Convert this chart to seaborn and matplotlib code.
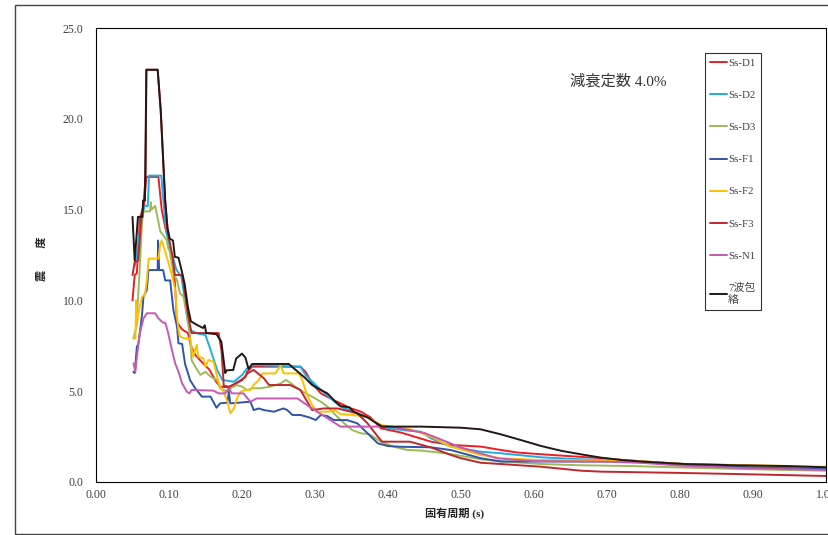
import pandas as pd
import matplotlib
matplotlib.use("Agg")
import matplotlib.pyplot as plt
import seaborn as sns
from matplotlib.patches import Rectangle
from matplotlib.ticker import MultipleLocator, FormatStrFormatter

# Ss-D1
t_d1 = [0.050, 0.053, 0.056, 0.060, 0.066, 0.069, 0.0855, 0.090, 0.095, 0.100,
        0.104, 0.108, 0.111, 0.118, 0.126, 0.130, 0.136, 0.145, 0.155, 0.165,
        0.170, 0.184, 0.191, 0.198, 0.205, 0.207, 0.214, 0.280, 0.287, 0.296,
        0.308, 0.326, 0.349, 0.363, 0.376, 0.390, 0.418, 0.459, 0.486, 0.527,
        0.555, 0.578, 0.624, 0.692, 0.733, 0.800, 0.900, 1.000]
v_d1 = [10.0, 11.4, 11.5, 14.5, 15.3, 16.8, 16.8, 15.0, 14.0, 13.3,
        12.3, 11.0, 8.8, 8.4, 8.2, 7.5, 7.0, 6.6, 6.2, 5.5,
        5.25, 5.2, 5.43, 5.6, 5.8, 6.07, 6.35, 6.35, 6.07, 5.43,
        4.88, 4.5, 4.06, 3.87, 3.56, 2.96, 2.72, 2.22, 2.04, 1.95,
        1.76, 1.62, 1.49, 1.31, 1.18, 1.0, 0.9, 0.78]

# Ss-D2
t_d2 = [0.053, 0.0575, 0.062, 0.0667, 0.071, 0.0726, 0.0895, 0.092, 0.0963, 0.101,
        0.110, 0.117, 0.1245, 0.129, 0.138, 0.150, 0.157, 0.166, 0.173, 0.189,
        0.200, 0.207, 0.216, 0.280, 0.287, 0.308, 0.335, 0.353, 0.372, 0.385,
        0.400, 0.427, 0.445, 0.459, 0.486, 0.527, 0.555, 0.610, 0.665, 0.733,
        0.800, 0.900, 1.000]
v_d2 = [11.9, 13.0, 14.5, 15.2, 15.2, 16.87, 16.87, 15.6, 13.76, 13.0,
        11.7, 11.3, 9.29, 8.37, 8.19, 8.09, 7.27, 6.17, 5.62, 5.52,
        5.89, 6.26, 6.44, 6.35, 5.89, 5.07, 4.15, 3.87, 3.56, 3.23,
        2.96, 2.83, 2.77, 2.4, 1.95, 1.67, 1.58, 1.36, 1.25, 1.16,
        1.0, 0.85, 0.75]

# Ss-D3
t_d3 = [0.0513, 0.055, 0.058, 0.060, 0.063, 0.065, 0.074, 0.075, 0.076, 0.081,
        0.0856, 0.088, 0.092, 0.097, 0.099, 0.101, 0.106, 0.111, 0.115, 0.120,
        0.1245, 0.129, 0.131, 0.136, 0.143, 0.150, 0.157, 0.166, 0.170, 0.180,
        0.186, 0.193, 0.200, 0.207, 0.214, 0.225, 0.239, 0.253, 0.260, 0.264,
        0.276, 0.287, 0.296, 0.308, 0.317, 0.328, 0.340, 0.351, 0.363, 0.374,
        0.390, 0.408, 0.427, 0.445, 0.459, 0.486, 0.527, 0.555, 0.610, 0.665,
        0.733, 0.800, 0.900, 1.000]
v_d3 = [7.9, 8.5, 10.4, 11.86, 14.25, 14.9, 14.9, 15.4, 15.0, 15.2,
        14.3, 13.8, 13.6, 13.3, 12.87, 12.7, 11.5, 11.1, 10.4, 10.2,
        9.1, 8.0, 6.7, 6.35, 5.9, 6.07, 5.8, 5.6, 5.16, 4.97,
        5.2, 5.34, 5.25, 5.07, 5.16, 5.16, 5.25, 5.43, 5.62, 5.52,
        5.16, 4.88, 4.7, 4.42, 4.15, 3.69, 3.23, 2.86, 2.68, 2.64,
        2.22, 1.94, 1.76, 1.73, 1.67, 1.54, 1.25, 1.13, 0.99, 0.92,
        0.88, 0.8, 0.7, 0.62]

# Ss-F1
t_f1 = [0.0513, 0.053, 0.056, 0.058, 0.060, 0.063, 0.065, 0.0696, 0.0719, 0.0845,
        0.0850, 0.0865, 0.092, 0.0948, 0.1016, 0.106, 0.111, 0.113, 0.118, 0.122,
        0.129, 0.136, 0.145, 0.157, 0.165, 0.170, 0.180, 0.182, 0.184, 0.2115,
        0.216, 0.223, 0.230, 0.244, 0.250, 0.257, 0.262, 0.269, 0.280, 0.292,
        0.301, 0.308, 0.317, 0.326, 0.344, 0.358, 0.372, 0.386, 0.400, 0.418,
        0.459, 0.486, 0.527, 0.555, 0.610, 0.733, 0.800, 0.900, 1.000]
v_f1 = [6.07, 6.0, 7.45, 7.6, 8.19, 9.2, 10.2, 10.57, 11.67, 11.67,
        13.3, 11.67, 11.67, 11.1, 11.1, 9.47, 8.55, 7.64, 7.6, 6.5,
        5.6, 5.16, 4.7, 4.7, 4.09, 4.33, 4.37, 4.97, 4.33, 4.42,
        3.96, 4.05, 3.96, 3.87, 3.96, 4.05, 3.96, 3.69, 3.69, 3.56,
        3.41, 3.69, 3.63, 3.41, 3.41, 3.23, 2.68, 2.13, 1.98, 1.94,
        1.91, 1.76, 1.31, 1.13, 1.13, 1.13, 0.95, 0.8, 0.7]

# Ss-F2
t_f2 = [0.0513, 0.054, 0.055, 0.056, 0.058, 0.063, 0.067, 0.0696, 0.072, 0.0856,
        0.088, 0.090, 0.0948, 0.099, 0.104, 0.1085, 0.111, 0.113, 0.115, 0.122,
        0.129, 0.133, 0.138, 0.140, 0.147, 0.150, 0.154, 0.161, 0.166, 0.170,
        0.175, 0.180, 0.184, 0.189, 0.193, 0.198, 0.205, 0.2115, 0.216, 0.223,
        0.228, 0.246, 0.253, 0.257, 0.278, 0.2826, 0.289, 0.296, 0.303, 0.317,
        0.328, 0.335, 0.353, 0.372, 0.390, 0.431, 0.459, 0.486, 0.527, 0.555,
        0.610, 0.733, 0.800, 0.900, 1.000]
v_f2 = [7.9, 7.9, 10.0, 8.6, 9.3, 10.2, 10.3, 11.1, 12.3, 12.3,
        13.1, 13.3, 12.7, 12.1, 11.4, 10.57, 9.1, 8.37, 8.0, 7.9,
        7.9, 6.9, 7.55, 6.9, 6.81, 6.35, 6.72, 6.62, 5.8, 5.25,
        4.97, 4.42, 3.78, 4.05, 4.6, 4.97, 5.07, 5.07, 5.34, 5.62,
        5.98, 5.98, 6.44, 5.98, 5.98, 5.62, 4.79, 4.24, 3.87, 3.87,
        3.93, 3.74, 3.69, 3.56, 3.14, 2.9, 2.5, 1.95, 1.49, 1.31,
        1.21, 1.18, 1.0, 0.92, 0.84]

# Ss-F3
t_f3 = [0.050, 0.053, 0.058, 0.062, 0.065, 0.068, 0.069, 0.0845, 0.0886, 0.0948,
        0.098, 0.101, 0.105, 0.108, 0.118, 0.122, 0.126, 0.131, 0.168, 0.172,
        0.175, 0.182, 0.190, 0.200, 0.208, 0.216, 0.230, 0.237, 0.266, 0.280,
        0.292, 0.296, 0.312, 0.331, 0.358, 0.372, 0.386, 0.392, 0.430, 0.459,
        0.486, 0.500, 0.527, 0.555, 0.610, 0.665, 0.692, 0.800, 0.900, 1.000]
v_f3 = [11.4, 12.1, 12.2, 14.5, 15.3, 16.8, 22.7, 22.7, 20.5, 15.4,
        13.8, 13.2, 12.4, 11.4, 11.4, 10.4, 9.2, 8.2, 8.2, 7.2,
        5.3, 5.25, 5.4, 5.6, 6.0, 6.17, 5.71, 5.34, 5.34, 5.07,
        4.24, 3.96, 4.05, 4.05, 3.78, 3.23, 2.5, 2.22, 2.22, 1.9,
        1.49, 1.31, 1.06, 0.99, 0.84, 0.62, 0.57, 0.5, 0.42, 0.33]

# Ss-N1
t_n1 = [0.0513, 0.054, 0.056, 0.060, 0.065, 0.0696, 0.081, 0.0856, 0.092, 0.095,
        0.099, 0.104, 0.1085, 0.113, 0.118, 0.1245, 0.128, 0.131, 0.161, 0.168,
        0.177, 0.182, 0.186, 0.202, 0.2115, 0.220, 0.276, 0.289, 0.303, 0.321,
        0.335, 0.404, 0.450, 0.500, 0.550, 0.600, 0.700, 0.750, 0.800, 0.900,
        1.000]
v_n1 = [6.53, 6.07, 6.9, 8.19, 9.0, 9.29, 9.29, 9.0, 8.77, 8.77,
        8.19, 7.27, 6.53, 6.07, 5.43, 4.97, 4.88, 5.07, 5.03, 4.88,
        4.88, 5.16, 4.88, 4.88, 4.42, 4.6, 4.6, 4.24, 3.87, 3.41,
        3.05, 3.05, 2.7, 1.9, 1.3, 1.15, 1.12, 1.05, 0.9, 0.75,
        0.66]

# 7-wave envelope
t_env = [0.050, 0.053, 0.0575, 0.0635, 0.0645, 0.067, 0.069, 0.0845, 0.0886, 0.0948,
         0.098, 0.101, 0.1055, 0.108, 0.113, 0.117, 0.1215, 0.126, 0.130, 0.1374,
         0.1466, 0.149, 0.151, 0.165, 0.1717, 0.177, 0.179, 0.188, 0.192, 0.200,
         0.2047, 0.209, 0.214, 0.264, 0.271, 0.287, 0.296, 0.308, 0.317, 0.328,
         0.335, 0.347, 0.353, 0.363, 0.372, 0.383, 0.392, 0.445, 0.500, 0.527,
         0.555, 0.582, 0.610, 0.637, 0.665, 0.692, 0.720, 0.750, 0.807, 0.875,
         0.944, 1.000]
v_env = [14.6, 12.2, 14.6, 14.6, 15.5, 15.5, 22.7, 22.7, 20.5, 15.5,
         14.0, 13.4, 13.3, 12.4, 12.35, 11.7, 10.9, 9.6, 8.85, 8.67,
         8.48, 8.63, 8.2, 8.14, 7.73, 6.0, 6.15, 6.17, 6.8, 7.07,
         6.85, 6.22, 6.5, 6.5, 6.26, 5.71, 5.34, 5.07, 4.88, 4.42,
         4.18, 4.11, 3.87, 3.69, 3.56, 3.27, 3.05, 3.05, 2.99, 2.9,
         2.62, 2.31, 1.98, 1.72, 1.52, 1.34, 1.21, 1.12, 0.99, 0.92,
         0.88, 0.81]

waves = ["Ss-D1", "Ss-D2", "Ss-D3", "Ss-F1", "Ss-F2", "Ss-F3", "Ss-N1", "7波包絡"]
colors = ["#EE1D23", "#1FADE4", "#9BBB59", "#2F55A8", "#FFC000", "#C0272D", "#C45AB3", "#231815"]

series = [(t_d1, v_d1), (t_d2, v_d2), (t_d3, v_d3), (t_f1, v_f1),
          (t_f2, v_f2), (t_f3, v_f3), (t_n1, v_n1), (t_env, v_env)]
rows = []
for name, (t, v) in zip(waves, series):
    for a, b in zip(t, v):
        rows.append((a, b, name))
df = pd.DataFrame(rows, columns=["period", "value", "wave"])

sns.set_theme(style="white")
plt.rcParams['font.family'] = ['Liberation Serif', 'Noto Sans CJK JP']

fig = plt.figure(figsize=(8.29, 5.35), dpi=100)
ax = fig.add_axes([96 / 829, 1 - 482 / 535, 730 / 829, 454 / 535])

sns.lineplot(data=df, x="period", y="value", hue="wave", hue_order=waves,
             palette=colors, estimator=None, sort=False, linewidth=1.4, ax=ax)

ax.set_xlim(0, 1.0)
ax.set_ylim(0, 25)
ax.xaxis.set_major_locator(MultipleLocator(0.1))
ax.xaxis.set_major_formatter(FormatStrFormatter("%.2f"))
ax.yaxis.set_major_locator(MultipleLocator(5))
ax.yaxis.set_major_formatter(FormatStrFormatter("%.1f"))
ax.tick_params(direction="in", length=3, width=0.8, labelsize=8.5,
               labelcolor="#404040", color="black")
ax.tick_params(axis="y", pad=9)
ax.tick_params(axis="x", pad=5)
for sp in ax.spines.values():
    sp.set_color("black")
    sp.set_linewidth(0.8)
ax.set_xlabel("")
ax.set_ylabel("")

# legend
handles, labels = ax.get_legend_handles_labels()
ax.get_legend().remove()
labels = [("7波包\n絡" if l == "7波包絡" else l) for l in labels]
leg = ax.legend(handles, labels, loc="upper left", bbox_to_anchor=(0.834, 0.945),
                frameon=True, fancybox=False, edgecolor="black", fontsize=7.8,
                labelspacing=2.08, handlelength=1.55, handletextpad=0.1,
                borderpad=0.5, borderaxespad=0)
leg.get_frame().set_linewidth(0.8)
for txt in leg.get_texts():
    txt.set_color("#404040")

# texts
fig.text(618 / 829, 1 - 81 / 535, "減衰定数 4.0%", ha="center", va="center",
         fontsize=11, color="#333333")
fig.text(455 / 829, 1 - 513 / 535, "固有周期 (s)", ha="center", va="center",
         fontsize=8, fontweight="bold", color="#222222")
fig.text(42 / 829, 1 - 259 / 535, "震\u3000\u3000度", ha="center", va="center",
         rotation=90, fontsize=8, fontweight="bold", color="#222222")

# outer frame
fig.add_artist(Rectangle((15 / 829, 1 / 535), 1.0, 1 - 6 / 535,
                         transform=fig.transFigure, fill=False,
                         edgecolor="#444444", linewidth=1.0))

fig.savefig("out.png", dpi=100)
